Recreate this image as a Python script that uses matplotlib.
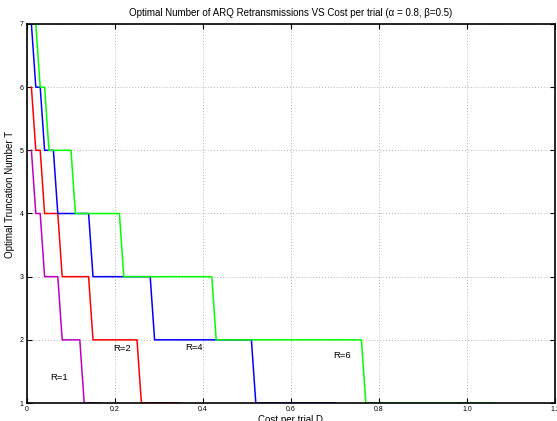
import matplotlib
matplotlib.use("Agg")
import matplotlib.pyplot as plt

plt.rcParams['font.family'] = ['Liberation Sans', 'DejaVu Sans']

# Data: vertices of each curve (cost per trial D, optimal truncation T)
r1_x = [0.01, 0.02, 0.03, 0.04, 0.07, 0.08, 0.12, 0.13, 0.17]
r1_y = [5, 4, 4, 3, 3, 2, 2, 1, 1]
r2_x = [0.01, 0.02, 0.03, 0.04, 0.07, 0.08, 0.14, 0.15, 0.25, 0.26, 0.35]
r2_y = [6, 5, 5, 4, 4, 3, 3, 2, 2, 1, 1]
r4_x = [0.01, 0.02, 0.03, 0.04, 0.06, 0.07, 0.14, 0.15, 0.28, 0.29, 0.51, 0.52, 0.70]
r4_y = [7, 6, 6, 5, 5, 4, 4, 3, 3, 2, 2, 1, 1]
r6_x = [0.01, 0.02, 0.03, 0.04, 0.05, 0.10, 0.11, 0.21, 0.22, 0.42, 0.43, 0.76, 0.77, 1.06]
r6_y = [7, 7, 6, 6, 5, 5, 4, 4, 3, 3, 2, 2, 1, 1]

labels = ['R=1', 'R=2', 'R=4', 'R=6']
label_x = [0.053, 0.197, 0.36, 0.695]
label_y = [1.40, 1.865, 1.88, 1.75]

x_ticks = [0, 0.2, 0.4, 0.6, 0.8, 1.0, 1.2]
x_ticklabels = ['0', '0.2', '0.4', '0.6', '0.8', '1.0', '1.2']
y_ticks = [1, 2, 3, 4, 5, 6, 7]

fig = plt.figure(figsize=(5.57, 4.21), dpi=100)
ax = fig.add_axes([27/557, 1 - 403/421, (555 - 27)/557, (403 - 24)/421])

ax.plot(r1_x, r1_y, color='#c000c0', lw=1.1)
ax.plot(r2_x, r2_y, color='#ff0000', lw=1.1)
ax.plot(r4_x, r4_y, color='#0000ff', lw=1.1)
ax.plot(r6_x, r6_y, color='#00ff00', lw=1.1)

for t, x, y in zip(labels, label_x, label_y):
    ax.text(x, y, t, fontsize=6.8, ha='left', va='center')

ax.set_xlim(0, 1.2)
ax.set_ylim(1, 7)
ax.set_xticks(x_ticks)
ax.set_xticklabels(x_ticklabels)
ax.set_yticks(y_ticks)
ax.grid(True, linestyle=(0, (1, 2.5)), color='#999999', lw=0.6)
ax.tick_params(direction='in', top=True, right=True, length=3.5, width=0.8,
               labelsize=5, pad=2.5)
for s in ax.spines.values():
    s.set_linewidth(1.2)

ax.set_title('Optimal Number of ARQ Retransmissions VS Cost per trial (α = 0.8, β=0.5)',
             fontsize=7, pad=6)
ax.set_xlabel('Cost per trial D', fontsize=7, labelpad=1)
ax.set_ylabel('Optimal Truncation Number T', fontsize=7)
ax.yaxis.set_label_coords(-0.022, 0.55)

fig.savefig('out.png', dpi=100)
